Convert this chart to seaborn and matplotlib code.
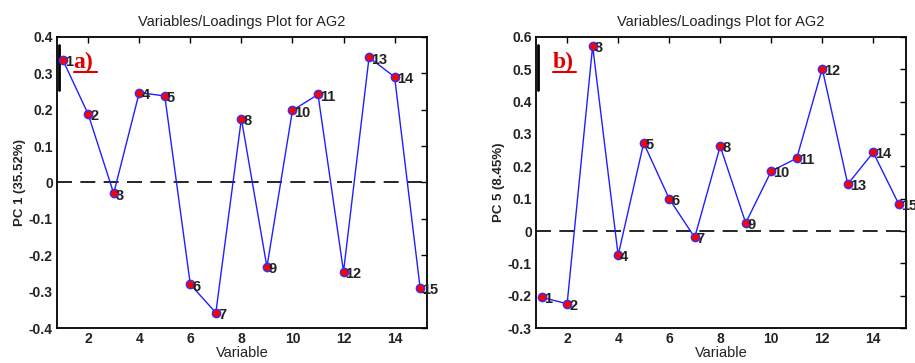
import matplotlib
matplotlib.use("Agg")
import matplotlib.pyplot as plt
import seaborn as sns
import numpy as np
import pandas as pd

variables = list(range(1, 16))
pc1 = [0.338, 0.188, -0.030, 0.247, 0.238, -0.280, -0.358, 0.175, -0.232,
       0.198, 0.242, -0.245, 0.344, 0.290, -0.290]
pc5 = [-0.205, -0.225, 0.572, -0.075, 0.272, 0.100, -0.020, 0.262, 0.025,
       0.185, 0.225, 0.502, 0.145, 0.243, 0.083]
title = "Variables/Loadings Plot for AG2"
ylabels = ["PC 1 (35.52%)", "PC 5 (8.45%)"]
panel_tags = ["a)", "b)"]
yticks_list = [[-0.4, -0.3, -0.2, -0.1, 0, 0.1, 0.2, 0.3, 0.4],
               [-0.3, -0.2, -0.1, 0, 0.1, 0.2, 0.3, 0.4, 0.5, 0.6]]
xticks = [2, 4, 6, 8, 10, 12, 14]

sns.set_style("white")
plt.rcParams['font.family'] = ['Liberation Sans', 'DejaVu Sans']

fig = plt.figure(figsize=(9.15, 3.63), dpi=100)
positions = [[0.0623, 0.0964, 0.4044, 0.8017], [0.5858, 0.0964, 0.4040, 0.8017]]

for i, vals in enumerate([pc1, pc5]):
    ax = fig.add_axes(positions[i])
    df = pd.DataFrame({"Variable": variables, "val": vals})
    ax.axhline(0, color="black", lw=1.2, dashes=(9, 5), zorder=1)
    sns.lineplot(data=df, x="Variable", y="val", ax=ax, color="#1f1fff", lw=1.0,
                 marker="o", markersize=6, markerfacecolor="red",
                 markeredgecolor="#3030ff", markeredgewidth=1.0, zorder=3)
    for x, y in zip(variables, vals):
        ax.text(x + 0.08, y - 0.006, str(x), fontsize=10.5, fontweight="bold",
                color="#222222", ha="left", va="center", zorder=4)
    ax.set_xlim(0.78, 15.27)
    yt = yticks_list[i]
    ax.set_ylim(yt[0], yt[-1])
    ax.set_xticks(xticks)
    ax.set_yticks(yt)
    ax.set_yticklabels([("%g" % v) for v in yt])
    ax.tick_params(direction="in", length=4, width=1, top=True, right=True,
                   labelsize=10, pad=3, colors="black")
    for lab in ax.get_xticklabels() + ax.get_yticklabels():
        lab.set_fontweight("bold")
        lab.set_color("#222222")
    for sp in ax.spines.values():
        sp.set_linewidth(1.3)
        sp.set_color("black")
    ax.set_title(title, fontsize=10.5, color="#222222", pad=8)
    ax.set_xlabel("Variable", fontsize=10.5, color="#222222", labelpad=0)
    ax.set_ylabel(ylabels[i], fontsize=9.5, fontweight="bold", color="#222222", labelpad=2)
    # panel tag
    ax.text(0.045, 0.893, panel_tags[i], transform=ax.transAxes, color="#e00000",
            fontsize=17, fontweight="bold", family=["Liberation Serif", "DejaVu Serif"],
            ha="left", va="baseline")
    ax.plot([0.045, 0.108], [0.880, 0.880], transform=ax.transAxes, color="#e00000", lw=1.5)
    ax.plot([0.006, 0.006], [0.818, 0.972], transform=ax.transAxes, color="black", lw=2)
    ax.grid(False)

fig.savefig("out.png", dpi=100)
